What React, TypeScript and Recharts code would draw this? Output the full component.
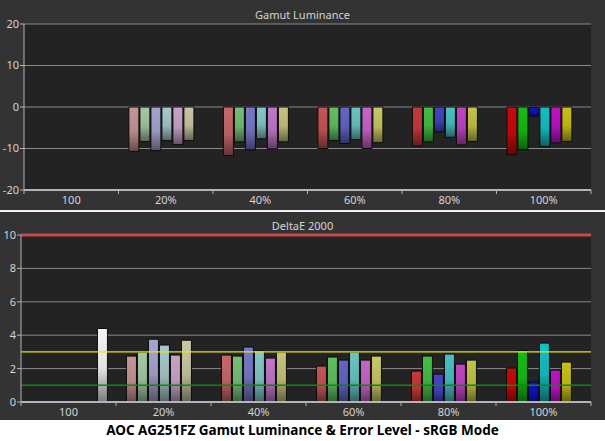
import React from "react";
import {
  BarChart,
  Bar,
  XAxis,
  YAxis,
  CartesianGrid,
  ReferenceLine,
  Cell,
} from "recharts";

const GROUPS = ["100", "20%", "40%", "60%", "80%", "100%"];
const SERIES = ["red", "green", "blue", "cyan", "magenta", "yellow", "white"];

// Gamut luminance error (%)
const lumRed = [null, -10.7, -11.7, -10.0, -9.4, -11.5];
const lumGreen = [null, -8.35, -8.4, -8.1, -8.4, -10.3];
const lumBlue = [null, -10.5, -10.3, -8.8, -6.0, -2.2];
const lumCyan = [null, -8.1, -7.65, -7.9, -7.3, -9.5];
const lumMagenta = [null, -9.05, -10.1, -10.0, -9.15, -8.65];
const lumYellow = [null, -8.1, -8.4, -8.6, -8.3, -8.3];
const lumWhite = [0, null, null, null, null, null];

// DeltaE 2000
const deRed = [null, 2.75, 2.81, 2.15, 1.85, 2.03];
const deGreen = [null, 2.99, 2.75, 2.69, 2.75, 3.09];
const deBlue = [null, 3.76, 3.29, 2.51, 1.67, 1.2];
const deCyan = [null, 3.41, 3.07, 2.99, 2.87, 3.53];
const deMagenta = [null, 2.81, 2.63, 2.51, 2.27, 1.91];
const deYellow = [null, 3.7, 2.99, 2.75, 2.51, 2.39];
const deWhite = [4.4, null, null, null, null, null];

const LUM_TICKS = [-20, -10, 0, 10, 20];
const DE_TICKS = [0, 2, 4, 6, 8, 10];

// colour of each series at each saturation step
const SHADES: Record<string, string[]> = {
  red: ["#c8c8c8", "#c89494", "#c86868", "#c85454", "#c83838", "#cc0808"],
  green: ["#c8c8c8", "#a4c8a4", "#74c074", "#60c060", "#40c040", "#10c010"],
  blue: ["#c8c8c8", "#a4a4d0", "#7878c8", "#6464c8", "#4444c4", "#1010c4"],
  cyan: ["#c8c8c8", "#a8c8c8", "#84c8c8", "#68c4c4", "#48c0c4", "#10c0c4"],
  magenta: ["#c8c8c8", "#c8a4c8", "#c078c8", "#c864c8", "#c044c4", "#c010c8"],
  yellow: ["#c8c8c8", "#c8c8a4", "#c4c478", "#c8c864", "#c4c444", "#c8c010"],
  white: ["#f4f4f4", "#f4f4f4", "#f4f4f4", "#f4f4f4", "#f4f4f4", "#f4f4f4"],
};

const BG = "#333333";
const PLOT_BG = "#232323";
const GRID = "#8a8a8a";
const AXIS = "#b4b4b4";
const TEXT = "#d4d4d4";
const FONT = "'Noto Sans', 'DejaVu Sans', sans-serif";

function darken(hex: string, k: number) {
  const n = parseInt(hex.slice(1), 16);
  const r = Math.round(((n >> 16) & 255) * k);
  const g = Math.round(((n >> 8) & 255) * k);
  const b = Math.round((n & 255) * k);
  return `rgb(${r},${g},${b})`;
}

function rows(cols: (number | null)[][]) {
  return GROUPS.map((name, i) => {
    const row: Record<string, any> = { name };
    SERIES.forEach((s, j) => (row[s] = cols[j][i]));
    return row;
  });
}

const lumData = rows([lumRed, lumGreen, lumBlue, lumCyan, lumMagenta, lumYellow, lumWhite]);
const deData = rows([deRed, deGreen, deBlue, deCyan, deMagenta, deYellow, deWhite]);

function Gradients({ prefix }: { prefix: string }) {
  return (
    <defs>
      {SERIES.flatMap((s) =>
        SHADES[s].map((c, gi) => (
          <linearGradient key={`${s}${gi}`} id={`${prefix}-${s}-${gi}`} x1="0" y1="0" x2="0" y2="1">
            <stop offset="0%" stopColor={c} />
            <stop offset="55%" stopColor={darken(c, 0.92)} />
            <stop offset="100%" stopColor={darken(c, 0.5)} />
          </linearGradient>
        ))
      )}
    </defs>
  );
}

function GroupTick(props: any) {
  const { x, y, payload, index, band } = props;
  const left = x - band / 2;
  return (
    <g>
      <line x1={left} x2={left} y1={y} y2={y + 4} stroke={AXIS} />
      {index === GROUPS.length - 1 && (
        <line x1={x + band / 2} x2={x + band / 2} y1={y} y2={y + 4} stroke={AXIS} />
      )}
      <text x={x} y={y + 14} textAnchor="middle" fill={TEXT} fontSize={11} fontFamily={FONT}>
        {payload.value}
      </text>
    </g>
  );
}

function Panel({
  data,
  prefix,
  domain,
  ticks,
  yWidth,
  height,
  top,
  children,
}: {
  data: any[];
  prefix: string;
  domain: [number, number];
  ticks: number[];
  yWidth: number;
  height: number;
  top: number;
  children?: React.ReactNode;
}) {
  const plotWidth = 605 - 14 - yWidth;
  const band = plotWidth / GROUPS.length;
  return (
    <BarChart
      width={605}
      height={height}
      data={data}
      margin={{ top, right: 14, bottom: 0, left: 0 }}
      barCategoryGap="11%"
      barGap={1}
    >
      <Gradients prefix={prefix} />
      <CartesianGrid vertical={false} stroke={GRID} fill={PLOT_BG} />
      <XAxis
        dataKey="name"
        height={20}
        stroke={AXIS}
        strokeWidth={2}
        tickLine={false}
        tickSize={0}
        tickMargin={0}
        interval={0}
        tick={<GroupTick band={band} />}
      />
      <YAxis
        width={yWidth}
        domain={domain}
        ticks={ticks}
        interval={0}
        stroke={AXIS}
        tickSize={4}
        tickMargin={1}
        tick={{ fill: TEXT, fontSize: 11, fontFamily: FONT }}
      />
      <YAxis
        yAxisId="r"
        orientation="right"
        width={0}
        domain={domain}
        tick={false}
        tickLine={false}
        stroke={AXIS}
      />
      {SERIES.map((s) => (
        <Bar key={s} dataKey={s} stroke="#0c0c0c" strokeWidth={1} isAnimationActive={false}>
          {data.map((_, gi) => (
            <Cell key={gi} fill={`url(#${prefix}-${s}-${gi})`} />
          ))}
        </Bar>
      ))}
      {children}
    </BarChart>
  );
}

const titleStyle: React.CSSProperties = {
  position: "absolute",
  left: 0,
  width: 605,
  textAlign: "center",
  color: TEXT,
  fontFamily: FONT,
  fontSize: 11,
  lineHeight: "14px",
};

export default function App() {
  return (
    <div style={{ position: "absolute", left: 0, top: 0, width: 605, height: 441, background: BG, overflow: "hidden" }}>
      <div style={{ position: "absolute", left: 0, top: 0 }}>
        <Panel data={lumData} prefix="lum" domain={[-20, 20]} ticks={LUM_TICKS} yWidth={24} height={210} top={24} />
      </div>
      <div style={{ ...titleStyle, top: 8 }}>Gamut Luminance</div>
      <div style={{ position: "absolute", left: 0, top: 210, width: 605, height: 2, background: "#f2f2f2" }} />
      <div style={{ position: "absolute", left: 0, top: 210 }}>
        <Panel data={deData} prefix="de" domain={[0, 10]} ticks={DE_TICKS} yWidth={21} height={212} top={25}>
          <ReferenceLine y={3} stroke="#e8e800" strokeWidth={1.2} />
          <ReferenceLine y={1} stroke="#0a8a0a" strokeWidth={1.5} />
          <ReferenceLine y={10} stroke="#c44c4c" strokeWidth={3} />
        </Panel>
      </div>
      <div style={{ ...titleStyle, top: 219 }}>DeltaE 2000</div>
      <div
        style={{
          position: "absolute",
          left: 0,
          top: 420,
          width: 605,
          height: 21,
          background: "#ffffff",
          color: "#000",
          textAlign: "center",
          fontFamily: FONT,
          fontWeight: 700,
          fontSize: 13.5,
          lineHeight: "21px",
        }}
      >
        AOC AG251FZ Gamut Luminance &amp; Error Level - sRGB Mode
      </div>
    </div>
  );
}
